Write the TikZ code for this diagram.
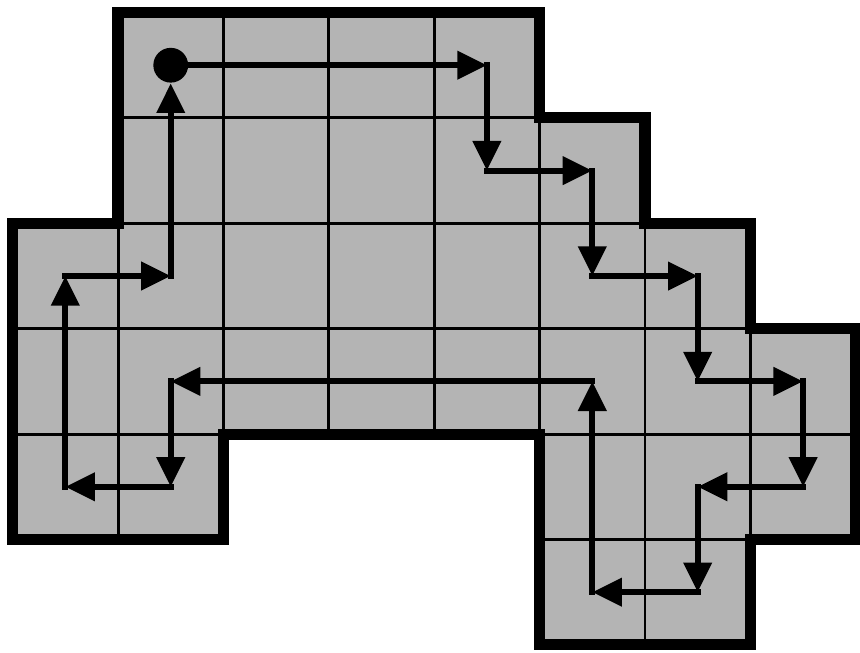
\documentclass[tikz,border=0pt]{standalone}
\usetikzlibrary{arrows.meta}
\definecolor{cellgray}{RGB}{180,180,180}

\begin{document}
\begin{tikzpicture}[x=1cm, y=-1cm,
    cell/.style={fill=cellgray, draw=black, line width=0.8pt},
    rim/.style={draw=black, line width=3pt},
    arr/.style={-{Triangle[length=8pt, width=7.4pt]}, line width=1.6pt, line cap=rect},
    dot/.style={circle, fill=black, inner sep=0pt, minimum size=0.33cm}
  ]
    \useasboundingbox (-0.12,-0.119) rectangle (8.04,6.077);

    % cell centres
    \foreach \c in {0,...,7}
      \foreach \r in {0,...,5}
        \coordinate (c\c\r) at ({\c+0.5},{\r+0.5});

    % the region
    \foreach \c/\r in {1/0,2/0,3/0,4/0,
                       1/1,2/1,3/1,4/1,5/1,
                       0/2,1/2,2/2,3/2,4/2,5/2,6/2,
                       0/3,1/3,2/3,3/3,4/3,5/3,6/3,7/3,
                       0/4,1/4,5/4,6/4,7/4,
                       5/5,6/5}
      \draw[cell] (\c,\r) rectangle ++(1,1);
    \draw[rim] (1,0) -- (5,0) -- (5,1) -- (6,1) -- (6,2) -- (7,2) -- (7,3)
      -- (8,3) -- (8,5) -- (7,5) -- (7,6) -- (5,6) -- (5,4) -- (2,4)
      -- (2,5) -- (0,5) -- (0,2) -- (1,2) -- cycle;

    % the tour
    \node[dot] (start) at (c10) {};
    \draw[arr] (start) -- (c40);
    \draw[arr] (c40) -- (c41);
    \draw[arr] (c41) -- (c51);
    \draw[arr] (c51) -- (c52);
    \draw[arr] (c52) -- (c62);
    \draw[arr] (c62) -- (c63);
    \draw[arr] (c63) -- (c73);
    \draw[arr] (c73) -- (c74);
    \draw[arr] (c74) -- (c64);
    \draw[arr] (c64) -- (c65);
    \draw[arr] (c65) -- (c55);
    \draw[arr] (c55) -- (c53);
    \draw[arr] (c53) -- (c13);
    \draw[arr] (c13) -- (c14);
    \draw[arr] (c14) -- (c04);
    \draw[arr] (c04) -- (c02);
    \draw[arr] (c02) -- (c12);
    \draw[arr] (c12) -- (start);
  \end{tikzpicture}
\end{document}
